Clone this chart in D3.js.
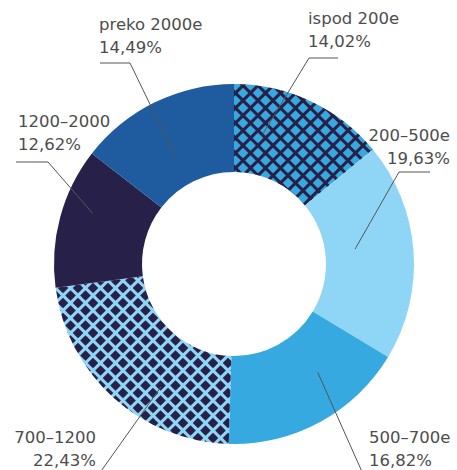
<!DOCTYPE html>
<html>
<head>
<meta charset="utf-8">
<script src="https://cdn.jsdelivr.net/npm/d3@7"></script>
<style>
  body { margin: 0; background: #fff; }
  text { font-family: "DejaVu Sans", sans-serif; font-size: 16.5px; fill: #4d4d4d; }
</style>
</head>
<body>
<div id="chart"></div>
<script>
// data
var categories = ["ispod 200e", "200–500e", "500–700e", "700–1200", "1200–2000", "preko 2000e"];
var shares = [14.02, 19.63, 16.82, 22.43, 12.62, 14.49];
var shareLabels = ["14,02%", "19,63%", "16,82%", "22,43%", "12,62%", "14,49%"];

// fills: plain colours or pattern ids
var fills = ["url(#pat-dark)", "#8fd5f5", "#35a9e0", "url(#pat-light)", "#27214a", "#1f5b9f"];

// label layout: text anchor point, elbow, and leader end (fraction across slice, radius)
var labelLayout = [
  { x: 308, y: 24, anchor: "start", elbow: [[338, 58], [309, 58]], t: 0.25, r: 134 },
  { x: 450, y: 141, anchor: "end", elbow: [[430, 172], [399, 172]], t: 0.46, r: 122 },
  { x: 369, y: 443, anchor: "start", elbow: [[420, 474], [363, 474]], t: 0.35, r: 137 },
  { x: 96, y: 443, anchor: "end", elbow: [[40, 474], [99, 474]], t: 0.36, r: 143 },
  { x: 18, y: 127, anchor: "start", elbow: [[16, 162], [48, 162]], t: 0.6, r: 150 },
  { x: 99, y: 30, anchor: "start", elbow: [[100, 63], [130, 63]], t: 0.45, r: 120 }
];

document.addEventListener("DOMContentLoaded", function () {
  var width = 457,
    height = 470;
  var cx = 234, cy = 264;
  var outerR = 180, innerR = 92;

  var svg = d3.select("#chart").append("svg").attr("width", width).attr("height", height);

  // patterns (overlapping-circle lattice with star shaped holes)
  var defs = svg.append("defs");
  var tile = 15;
  function starPath(x, y, s) {
    var k = 2.7;
    return "M" + x + "," + (y - s) +
      "Q" + (x + k) + "," + (y - k) + " " + (x + s) + "," + y +
      "Q" + (x + k) + "," + (y + k) + " " + x + "," + (y + s) +
      "Q" + (x - k) + "," + (y + k) + " " + (x - s) + "," + y +
      "Q" + (x - k) + "," + (y - k) + " " + x + "," + (y - s) + "Z";
  }
  function makePattern(id, bg, fg) {
    var p = defs.append("pattern")
      .attr("id", id)
      .attr("patternUnits", "userSpaceOnUse")
      .attr("x", cx)
      .attr("y", cy)
      .attr("width", tile)
      .attr("height", tile);
    p.append("rect").attr("width", tile).attr("height", tile).attr("fill", bg);
    var pts = [[0, 0], [tile, 0], [0, tile], [tile, tile], [tile / 2, tile / 2]];
    pts.forEach(function (q) {
      p.append("path").attr("d", starPath(q[0], q[1], 5.3)).attr("fill", fg);
    });
  }
  makePattern("pat-dark", "#27214a", "#35a9e0");
  makePattern("pat-light", "#8fd5f5", "#27214a");

  var pie = d3.pie().sort(null).value(function (d) { return d; });
  var arcs = pie(shares);
  var arc = d3.arc().innerRadius(innerR).outerRadius(outerR);

  var g = svg.append("g").attr("transform", "translate(" + cx + "," + cy + ")");

  g.selectAll("path.slice")
    .data(arcs)
    .enter()
    .append("path")
    .attr("class", "slice")
    .attr("d", arc)
    .attr("fill", function (d, i) { return fills[i]; });

  // leader lines
  var line = d3.line();
  arcs.forEach(function (d, i) {
    var L = labelLayout[i];
    var a = d.startAngle + L.t * (d.endAngle - d.startAngle);
    var end = [cx + L.r * Math.sin(a), cy - L.r * Math.cos(a)];
    svg.append("path")
      .attr("d", line([L.elbow[0], L.elbow[1], end]))
      .attr("fill", "none")
      .attr("stroke", "#555")
      .attr("stroke-width", 1);
  });

  // labels
  labelLayout.forEach(function (L, i) {
    var t = svg.append("text").attr("text-anchor", L.anchor);
    t.append("tspan").attr("x", L.x).attr("y", L.y).text(categories[i]);
    t.append("tspan").attr("x", L.x).attr("y", L.y + 23).text(shareLabels[i]);
  });
});
</script>
</body>
</html>
